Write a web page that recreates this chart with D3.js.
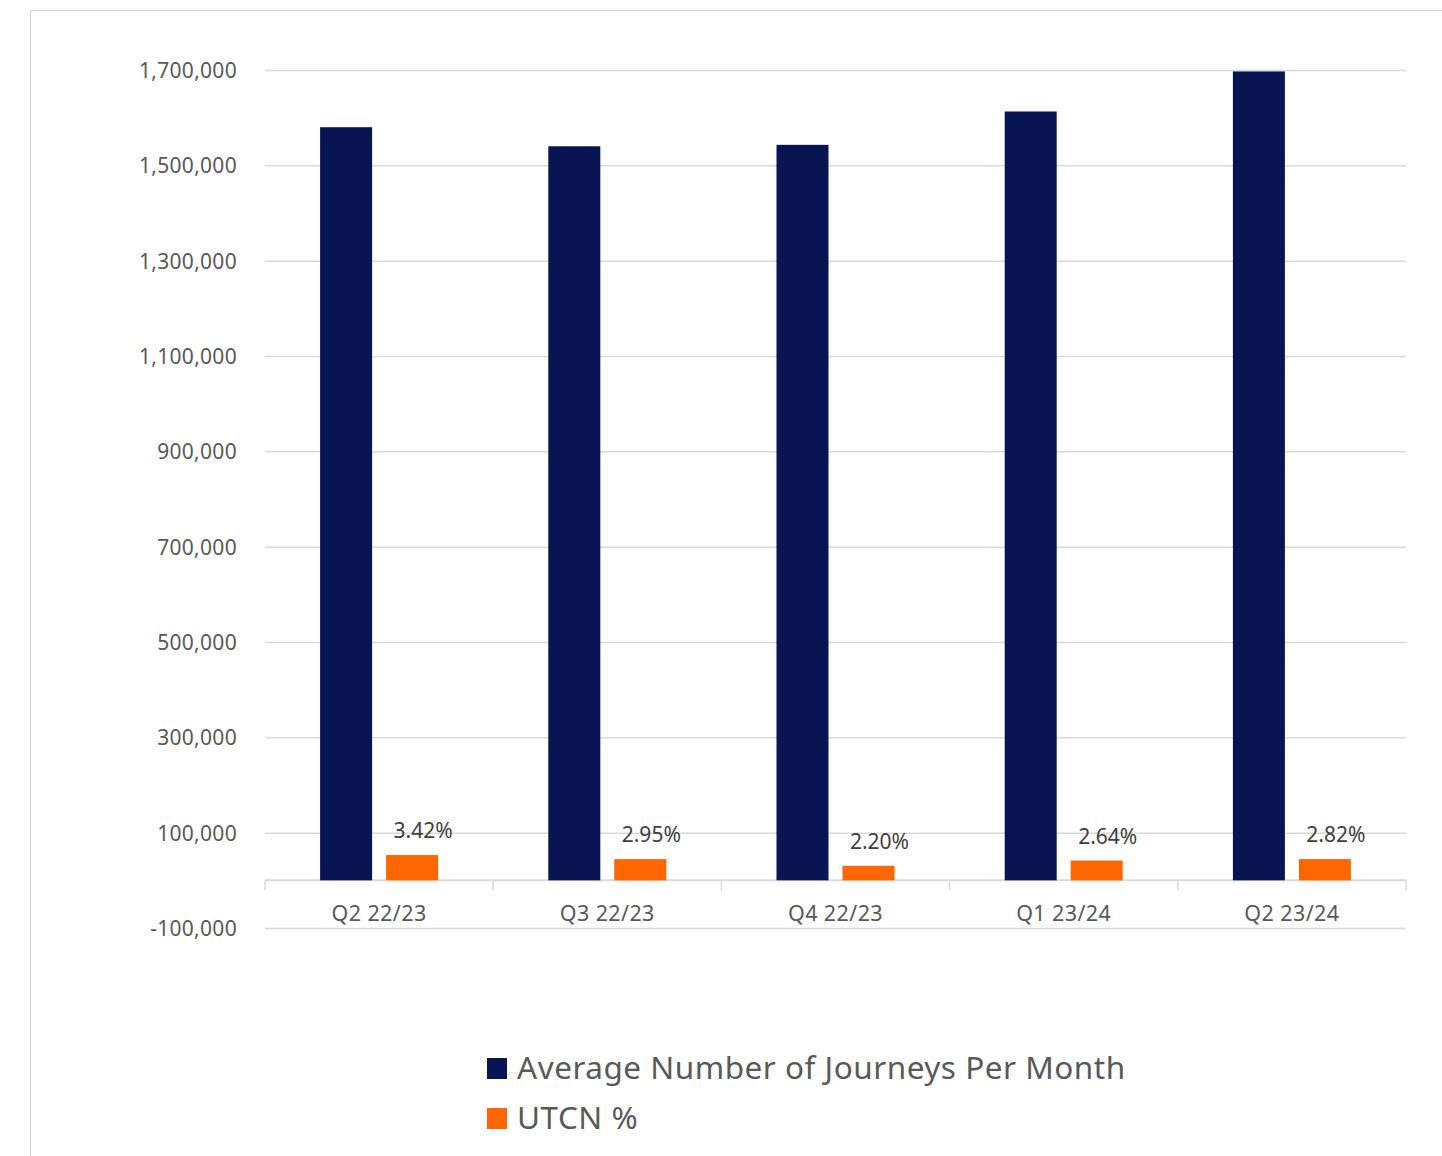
<!DOCTYPE html>
<html>
<head>
<meta charset="utf-8">
<script src="https://cdn.jsdelivr.net/npm/d3@7"></script>
<style>
  body { margin: 0; background: #fff; }
  svg { display: block; font-family: "Noto Sans", "Open Sans", sans-serif; }
</style>
</head>
<body>
<div id="graph"></div>
<script>
// data
const quarters = ["Q2 22/23", "Q3 22/23", "Q4 22/23", "Q1 23/24", "Q2 23/24"];
const journeys = [1580000, 1540000, 1543000, 1613000, 1697000];
const utcnCount = [53000, 44500, 30500, 41500, 44500];
const utcnPct = ["3.42%", "2.95%", "2.20%", "2.64%", "2.82%"];
const yTicks = [-100000, 100000, 300000, 500000, 700000, 900000, 1100000, 1300000, 1500000, 1700000];
const seriesNames = ["Average Number of Journeys Per Month", "UTCN %"];
const colors = ["#081552", "#ff6600"];

const W = 1442, H = 1156;
const graph = document.getElementById('graph');
graph.innerHTML = '<svg width="' + W + '" height="' + H + '"></svg>';
const svg = d3.select('svg');

// outer frame (only top and left edges visible)
svg.append("line").attr("x1", 30.5).attr("x2", W).attr("y1", 10.5).attr("y2", 10.5)
  .attr("stroke", "#d9d9d9").attr("stroke-width", 1.5);
svg.append("line").attr("x1", 30.5).attr("x2", 30.5).attr("y1", 10.5).attr("y2", H)
  .attr("stroke", "#d9d9d9").attr("stroke-width", 1.5);

const left = 265, right = 1406;
const x = d3.scaleBand().domain(quarters).range([left, right]);
const sub = d3.scaleBand().domain([0, 1]).range([x.bandwidth() / 2 - 59, x.bandwidth() / 2 + 59]).paddingInner(0.212);
const y = d3.scaleLinear().domain([-100000, 1700000]).range([928, 70]);

const fmt = v => d3.format(",")(v).replace("−", "-");

// gridlines + y labels
const yAxis = svg.append("g")
  .call(d3.axisLeft(y).tickValues(yTicks).tickSize(-(right - left)).tickFormat(fmt))
  .attr("transform", "translate(" + left + ",0)");
yAxis.select(".domain").remove();
yAxis.selectAll(".tick line").attr("stroke", "#d9d9d9").attr("stroke-width", 1.5);
yAxis.selectAll(".tick text").attr("x", -28).attr("fill", "#595959")
  .attr("font-size", 21).attr("font-family", "Noto Sans").attr("dy", "0.35em")
  .attr("letter-spacing", 0.3);

// x axis at zero
const xAxis = svg.append("g").attr("transform", "translate(0," + y(0) + ")");
xAxis.append("line").attr("x1", left).attr("x2", right).attr("stroke", "#d9d9d9").attr("stroke-width", 2);
const bounds = quarters.map(q => x(q)).concat([right]);
xAxis.selectAll(".tk").data(bounds).enter().append("line")
  .attr("x1", d => d).attr("x2", d => d).attr("y1", 0).attr("y2", 10)
  .attr("stroke", "#d9d9d9").attr("stroke-width", 1.5);
xAxis.selectAll(".cat").data(quarters).enter().append("text")
  .attr("x", d => x(d) + x.bandwidth() / 2).attr("y", 41)
  .attr("text-anchor", "middle").attr("fill", "#595959").attr("font-size", 21.5)
  .attr("letter-spacing", 0.4)
  .text(d => d);

// bars
const g = svg.append("g");
g.selectAll(".bar-j").data(journeys).enter().append("rect")
  .attr("x", (d, i) => x(quarters[i]) + sub(0))
  .attr("width", sub.bandwidth())
  .attr("y", d => y(d))
  .attr("height", d => y(0) - y(d))
  .attr("fill", colors[0]);
g.selectAll(".bar-u").data(utcnCount).enter().append("rect")
  .attr("x", (d, i) => x(quarters[i]) + sub(1))
  .attr("width", sub.bandwidth())
  .attr("y", d => y(d))
  .attr("height", d => y(0) - y(d))
  .attr("fill", colors[1]);

// percentage labels
g.selectAll(".lbl").data(utcnCount).enter().append("text")
  .attr("x", (d, i) => x(quarters[i]) + sub(1) + sub.bandwidth() / 2 + 11)
  .attr("y", d => y(d) - 17)
  .attr("text-anchor", "middle").attr("fill", "#404040").attr("font-size", 21)
  .text((d, i) => utcnPct[i]);

// legend
const legend = svg.append("g").attr("transform", "translate(487,1058)");
seriesNames.forEach((name, i) => {
  const row = legend.append("g").attr("transform", "translate(0," + (i * 50) + ")");
  row.append("rect").attr("width", 20).attr("height", 21).attr("fill", colors[i]);
  row.append("text").attr("x", 30).attr("y", 21).attr("fill", "#595959")
    .attr("font-size", 31.5).attr("letter-spacing", 0.5).text(name);
});
</script>
</body>
</html>
